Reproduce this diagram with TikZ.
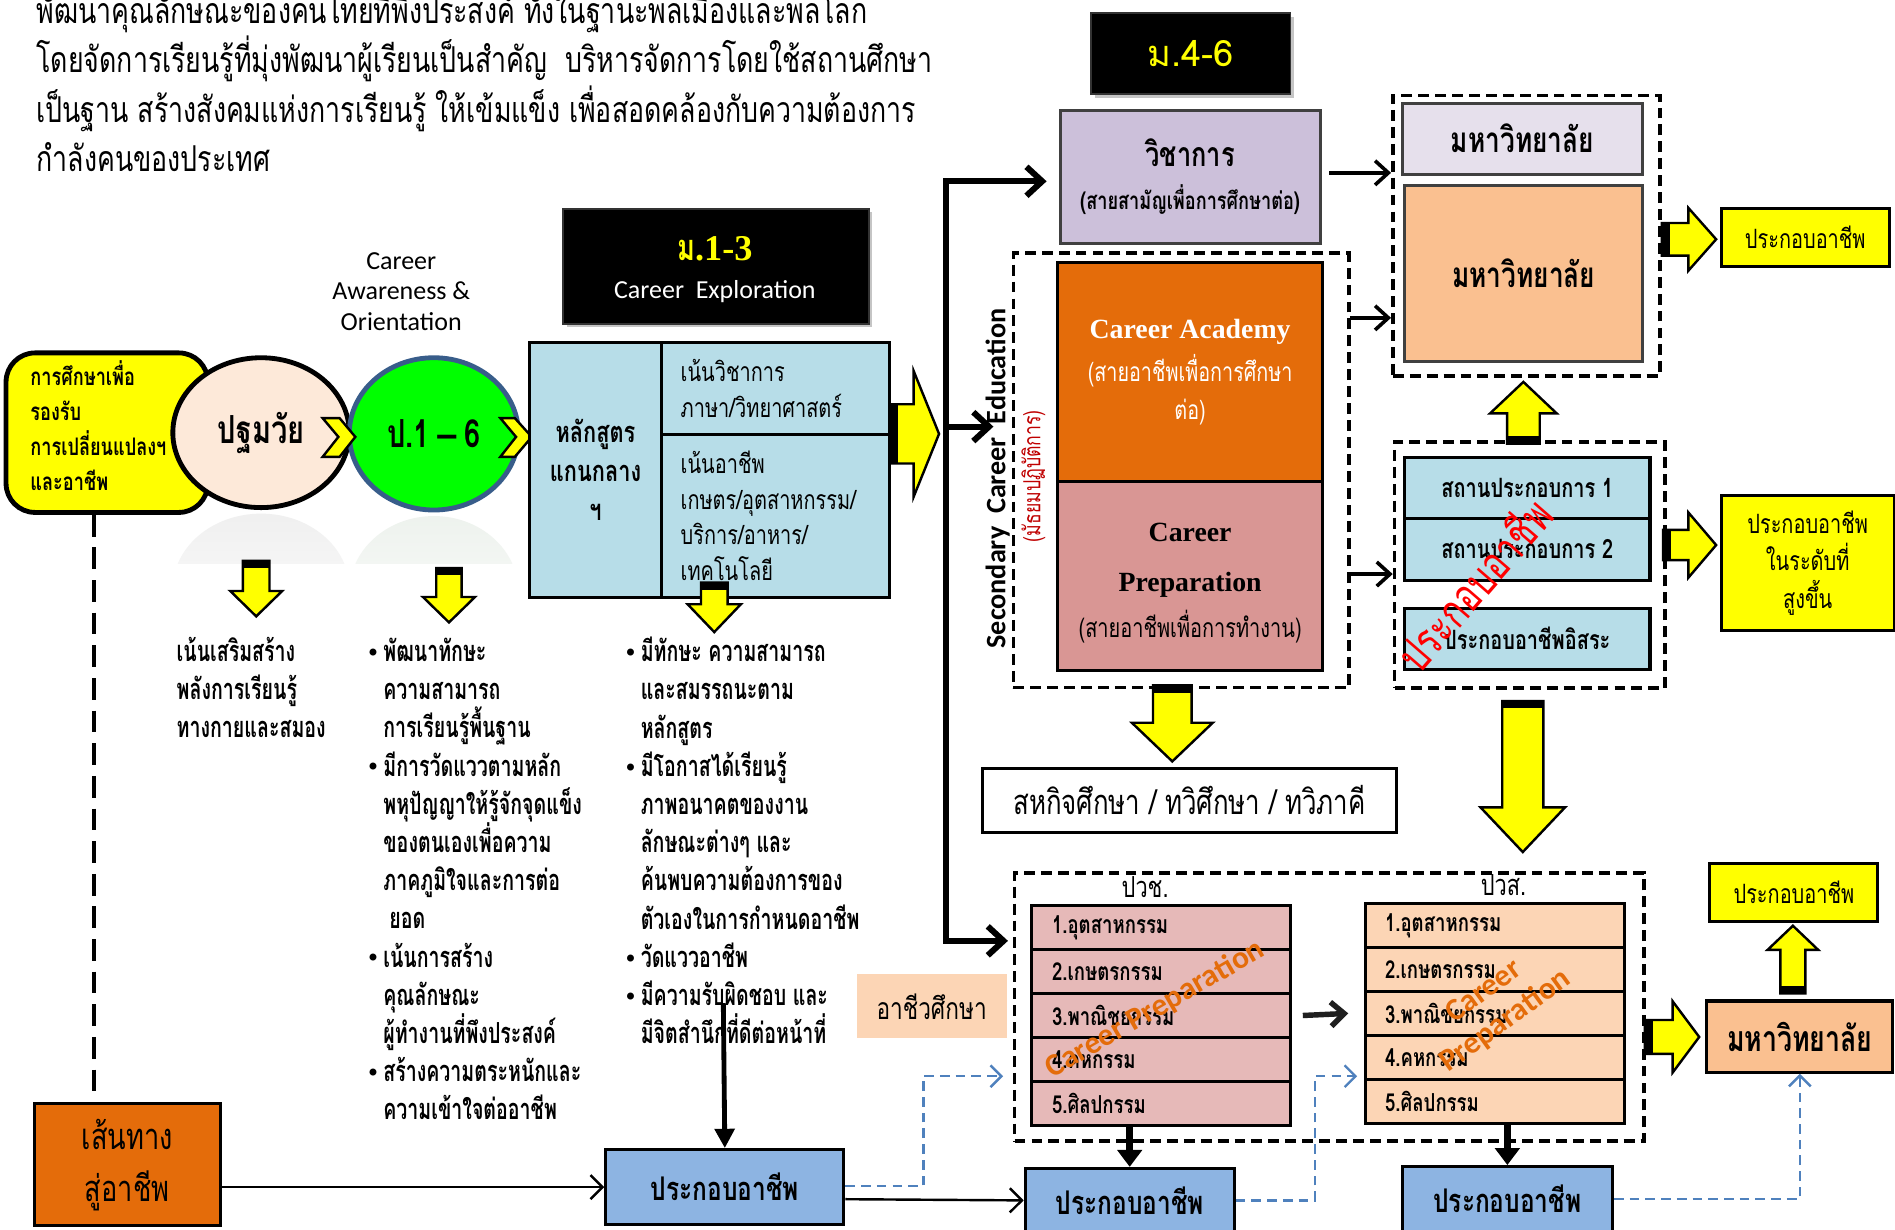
\documentclass[tikz,border=0pt]{standalone}
\usepackage{fontspec}
\setmainfont[Script=Thai]{Loma}
\newfontfamily\thn[Script=Thai,FakeStretch=0.75]{Loma}
\newfontfamily\thb[Script=Thai,FakeStretch=0.675]{Loma}
\newfontfamily\carl{Carlito}
\newfontfamily\tnr{Liberation Serif}
\newfontfamily\libs{Liberation Sans}
\usetikzlibrary{arrows.meta,shapes.geometric,shadows}
\definecolor{cyel}{HTML}{FFFF00}
\definecolor{cpeach}{HTML}{FDE9D9}
\definecolor{cgreen}{HTML}{00FF00}
\definecolor{cgbord}{HTML}{385D8A}
\definecolor{clblue}{HTML}{B7DDE8}
\definecolor{clav}{HTML}{CCC0DA}
\definecolor{clavl}{HTML}{E6E0EC}
\definecolor{corange}{HTML}{E46C0A}
\definecolor{cpink}{HTML}{D99694}
\definecolor{cpeachb}{HTML}{FAC090}
\definecolor{cpvc}{HTML}{E6B9B8}
\definecolor{cpvs}{HTML}{FCD5B5}
\definecolor{cblue}{HTML}{8DB4E2}
\definecolor{cbdash}{HTML}{4F81BD}
\definecolor{cdred}{HTML}{C00000}
\definecolor{cdgray}{HTML}{404040}
\definecolor{cdark}{HTML}{1F1F1F}
\newcommand\fs[2]{\fontsize{#1}{#2}\selectfont}
\newcommand\bul{\makebox[12pt][l]{\raisebox{1pt}{\libs\fs{20}{20}\textbullet}}}
\newcommand\nob{\hspace*{12pt}}
% yellow block arrows
\newcommand\yarR[6]{%
  \draw[yarrow] (#1,#4-#5) -- (#2,#4-#5) -- (#2,#4-#6) -- (#3,#4) -- (#2,#4+#6) -- (#2,#4+#5) -- (#1,#4+#5) -- cycle;
  \fill[black] (#1,#4-#5) rectangle (#1+7,#4+#5);}
\newcommand\yarD[6]{%
  \draw[yarrow] (#1-#5,#2) -- (#1+#5,#2) -- (#1+#5,#3) -- (#1+#6,#3) -- (#1,#4) -- (#1-#6,#3) -- (#1-#5,#3) -- cycle;
  \fill[black] (#1-#5,#2) rectangle (#1+#5,#2+6);}
\newcommand\yarU[6]{%
  \draw[yarrow] (#1-#5,#2) -- (#1+#5,#2) -- (#1+#5,#3) -- (#1+#6,#3) -- (#1,#4) -- (#1-#6,#3) -- (#1-#5,#3) -- cycle;
  \fill[black] (#1-#5,#2) rectangle (#1+#5,#2-6);}
\begin{document}
\begin{tikzpicture}[x=1pt,y=-1pt,
  box/.style={draw=black,line width=2.5pt,inner sep=0pt,anchor=north west},
  dbox/.style={draw=black,line width=3pt,dash pattern=on 9pt off 5pt},
  yarrow/.style={fill=cyel,draw=black,line width=2pt,line join=miter},
  trunk/.style={line width=5pt,line join=miter,{Straight Barb[length=13pt,width=24pt]}-{Straight Barb[length=13pt,width=24pt]}},
  trunkone/.style={line width=5pt,-{Straight Barb[length=13pt,width=24pt]}},
  marr/.style={line width=3pt,-{Straight Barb[length=11pt,width=20pt]}},
  thinarr/.style={line width=2pt,-{Straight Barb[length=10pt,width=20pt]}},
  vdown/.style={line width=4pt,-{Triangle[length=16pt,width=16pt]}},
  tdown/.style={line width=5.5pt,-{Triangle[length=14pt,width=20pt]}},
  bdash/.style={draw=cbdash,line width=2pt,dash pattern=on 8pt off 5pt,-{Straight Barb[length=9pt,width=18pt]}},
  vdash/.style={line width=3.5pt,dash pattern=on 18pt off 9pt},
  hdr/.style={box,fill=black,draw=gray!40!black,line width=1.5pt,drop shadow={shadow xshift=3pt,shadow yshift=-3pt,fill=black!45}},
  lbl/.style={anchor=mid,inner sep=0pt}]
\path[use as bounding box,fill=white] (0,0) rectangle (1568,1017.7);

% intro paragraph (anchored at its last line)
\node[anchor=mid west,align=left,inner sep=0pt,font={\thn\fs{29.5}{41}}] (intro) at (30,139.5)
 {พัฒนาคุณลักษณะของคนไทยที่พึงประสงค์ ทั้งในฐานะพลเมืองและพลโลก\\
  โดยจัดการเรียนรู้ที่มุ่งพัฒนาผู้เรียนเป็นสำคัญ \ บริหารจัดการโดยใช้สถานศึกษา\\
  เป็นฐาน สร้างสังคมแห่งการเรียนรู้ ให้เข้มแข็ง เพื่อสอดคล้องกับความต้องการ\\
  กำลังคนของประเทศ};

% left column
\node[box,line width=4pt,fill=cyel,rounded corners=24pt,minimum width=167pt,minimum height=132pt] (edu) at (3,290) {};
\node[anchor=mid west,align=left,inner sep=0pt,font={\thn\bfseries\fs{20}{29}}] (edut) at (25,403)
 {การศึกษาเพื่อ\\รองรับ\\การเปลี่ยนแปลงฯ\\และอาชีพ};

% faint reflections
\begin{scope}
 \clip (130,425) rectangle (440,466);
 \shade[top color=gray!12,bottom color=white] (216,487) ellipse [x radius=73pt,y radius=62pt];
 \shade[top color=green!15!gray!12,bottom color=white] (359,490) ellipse [x radius=70pt,y radius=63pt];
\end{scope}

\node[ellipse,draw=black,line width=4pt,fill=cpeach,minimum width=146pt,minimum height=124pt,
      font={\thn\bfseries\fs{32}{32}}] (kg) at (216,358) {ปฐมวัย};
\node[ellipse,draw=cgbord,line width=4pt,fill=cgreen,minimum width=140pt,minimum height=126pt,
      font={\thn\bfseries\fs{32}{32}}] (p16) at (359,359) {ป.1{\libs\bfseries\,–\,}6};

\draw[yarrow] (267,346) -- (281,346) -- (294,361.5) -- (281,378) -- (267,378) -- (280,361.5) -- cycle;
\draw[yarrow] (414,346) -- (426,346) -- (440,361.5) -- (426,378) -- (414,378) -- (427,361.5) -- cycle;

\node[anchor=mid,align=center,inner sep=0pt,font={\carl\fs{21.5}{25.5}}] (cao) at (332,271)
 {Career\\Awareness \&\\Orientation};

% M1-3 header
\node[hdr,minimum width=253pt,minimum height=95pt] (m13) at (465,172) {};
\node[lbl,text=cyel,font={\thn\bfseries\fs{30}{30}}] (m13a) at (591.5,213) {ม{\tnr\bfseries.1-3}};
\node[lbl,text=white,font={\carl\fs{21.5}{22}}] (m13b) at (591.5,244) {Career\ \ Exploration};

% core curriculum table
\node[box,fill=clblue,minimum width=109pt,minimum height=211pt,align=center,
      font={\thn\bfseries\fs{24}{32.5}}] (coreL) at (437,282) {หลักสูตร\\แกนกลาง\\ฯ};
\node[box,fill=clblue,minimum width=189pt,minimum height=76pt,text width=157pt,align=left,
      font={\thn\fs{22}{30}}] (coreA) at (546,282) {เน้นวิชาการ\\ภาษา/วิทยาศาสตร์};
\node[box,fill=clblue,minimum width=189pt,minimum height=135pt,text width=157pt,align=left,
      font={\thn\fs{22}{29.3}}] (coreB) at (546,358) {เน้นอาชีพ\\เกษตร/อุตสาหกรรม/\\บริการ/อาหาร/\\เทคโนโลยี};

\yarR{736}{756}{777}{359}{24.5}{52}

% small down arrows
\yarD{212}{464}{489}{510}{11}{21.5}
\yarD{371.5}{470}{494}{515}{10.5}{21.5}
\yarD{591}{482}{500}{523}{11}{22}

% bullet text blocks (anchored at their last line)
\node[anchor=mid west,align=left,inner sep=0pt,font={\thb\bfseries\fs{24}{31.6}}] (lst1) at (146,608)
 {เน้นเสริมสร้าง\\พลังการเรียนรู้\\ทางกายและสมอง};
\node[anchor=mid west,align=left,inner sep=0pt,font={\thb\bfseries\fs{24}{31.6}}] (lst2) at (305,924)
 {\bul พัฒนาทักษะ\\\nob ความสามารถ\\\nob การเรียนรู้พื้นฐาน\\\bul มีการวัดแววตามหลัก\\\nob พหุปัญญาให้รู้จักจุดแข็ง\\\nob ของตนเองเพื่อความ\\\nob ภาคภูมิใจและการต่อ\\\nob\hspace*{5pt}ยอด\\\bul เน้นการสร้าง\\\nob คุณลักษณะ\\\nob ผู้ทำงานที่พึงประสงค์\\\bul สร้างความตระหนักและ\\\nob ความเข้าใจต่ออาชีพ};
\node[anchor=mid west,align=left,inner sep=0pt,font={\thb\bfseries\fs{24}{31.6}}] (lst3) at (518,861)
 {\bul มีทักษะ ความสามารถ\\\nob และสมรรถนะตาม\\\nob หลักสูตร\\\bul มีโอกาสได้เรียนรู้\\\nob ภาพอนาคตของงาน\\\nob ลักษณะต่างๆ และ\\\nob ค้นพบความต้องการของ\\\nob ตัวเองในการกำหนดอาชีพ\\\bul วัดแววอาชีพ\\\bul มีความรับผิดชอบ และ\\\nob มีจิตสำนึกที่ดีต่อหน้าที่};

% M4-6 header and academic stream
\node[hdr,minimum width=165pt,minimum height=67pt,text=cyel,font={\fs{30}{30}}] (m46) at (902,10) {ม.4-6};
\node[box,fill=clav,draw=cdgray,minimum width=215pt,minimum height=110pt,align=center,
      font={\thn\bfseries\fs{20}{36}}] (vich) at (876,90)
 {{\fs{28}{36}วิชาการ}\\(สายสามัญเพื่อการศึกษาต่อ)};

% secondary career education
\node[box,dbox,minimum width=277.5pt,minimum height=359.5pt] (sce) at (837,208) {};
\node[box,fill=corange,minimum width=219pt,minimum height=181.3pt,align=center,text=white,
      font={\thn\fs{21.8}{31}}] (cacad) at (874,215.7)
 {{\tnr\bfseries\fs{23}{31}Career Academy}\\[5pt](สายอาชีพเพื่อการศึกษา\\ต่อ)};
\node[box,fill=cpink,minimum width=219pt,minimum height=156.7pt] (cprep) at (874,397) {};
\node[align=center,inner sep=0pt,font={\thn\fs{22}{38}}] (cprept) at ([yshift=-6pt]cprep.center)
 {{\tnr\bfseries\fs{23}{38}Career}\\[3pt]{\tnr\bfseries\fs{23}{38}Preparation}\\(สายอาชีพเพื่อการทำงาน)};
\node[rotate=90,inner sep=0pt,font={\carl\bfseries\fs{23.3}{23}}] (scelbl) at (825.5,396) {Secondary\ \ Career\ \ Education};
\node[rotate=90,inner sep=0pt,text=cdred,font={\thn\fs{19.5}{19}}] (scesub) at (855,394) {(มัธยมปฏิบัติการ)};

% trunk
\coordinate (tT) at (783,150);
\coordinate (tTe) at (866,150);
\coordinate (tM) at (783,353);
\coordinate (tMe) at (822,353);
\coordinate (tB) at (783,778.5);
\coordinate (tBe) at (834,778.5);
\draw[trunk] (tBe) -- (tB) -- (tT) -- (tTe);
\draw[trunkone] (tM) -- (tMe);

% university block
\node[box,dbox,minimum width=221pt,minimum height=232pt] (uni) at (1151,77.5) {};
\node[box,fill=clavl,draw=cdgray,minimum width=199pt,minimum height=59pt,font={\thn\bfseries\fs{29}{29}}] (uniA) at (1159,84) {มหาวิทยาลัย};
\node[box,fill=cpeachb,draw=cdgray,minimum width=197pt,minimum height=146pt,font={\thn\bfseries\fs{29}{29}}] (uniB) at (1161,152) {มหาวิทยาลัย};
\coordinate (a1) at (1100,143);
\coordinate (a2) at (1117,263);
\coordinate (a3) at (1117,475);
\draw[marr] (a1) -- (a1 -| uni.west);
\draw[marr] (a2) -- (a2 -| uni.west);

\yarR{1375}{1397}{1420}{198}{13.5}{26}
\node[box,fill=cyel,minimum width=139pt,minimum height=48pt,font={\thn\fs{22}{22}}] (job1) at (1423,171) {ประกอบอาชีพ};

\yarU{1260.5}{367}{342}{316}{13.5}{27.5}

% workplace block
\node[box,dbox,minimum width=223.6pt,minimum height=204pt] (wp) at (1152.4,364) {};
\draw[marr] (a3) -- (a3 -| wp.west);
\node[box,fill=clblue,minimum width=203pt,minimum height=50.5pt,font={\thn\bfseries\fs{22}{22}}] (wp1) at (1161,377) {สถานประกอบการ 1};
\node[box,fill=clblue,minimum width=203pt,minimum height=51.5pt,font={\thn\bfseries\fs{22}{22}}] (wp2) at (1161,427.5) {สถานประกอบการ 2};
\node[box,fill=clblue,minimum width=203pt,minimum height=50.5pt,font={\thn\bfseries\fs{22}{22}}] (wp3) at (1161,502) {ประกอบอาชีพอิสระ};
\node[rotate=49,inner sep=0pt,text=red,font={\thn\fs{38}{38}}] (redjob) at (1219,483) {ประกอบอาชีพ};

\yarR{1376}{1397}{1420}{451}{12.5}{27}
\node[box,fill=cyel,minimum width=143pt,minimum height=112pt,align=center,font={\thn\fs{22}{31}}] (job2) at (1423,408.5)
 {ประกอบอาชีพ\\ในระดับที่\\สูงขึ้น};

% cooperative education
\yarD{970}{567}{598}{630}{16}{33.5}
\node[box,minimum width=343pt,minimum height=53pt,font={\thn\fs{28.5}{28}}] (coop) at (811.5,634.5) {สหกิจศึกษา / ทวิศึกษา / ทวิภาคี};
\yarD{1260}{580}{668}{705}{17}{35}

% vocational block
\node[box,dbox,minimum width=520.6pt,minimum height=221.6pt] (pv) at (838,721) {};
\node[lbl,font={\thn\fs{24}{24}}] (pvcL) at (947.5,740) {ปวช.};
\node[lbl,font={\thn\fs{24}{24}}] (pvsL) at (1244,738.5) {ปวส.};
\foreach \t [count=\i from 0] in {1.อุตสาหกรรม,2.เกษตรกรรม,3.พาณิชยกรรม,4.คหกรรม,5.ศิลปกรรม}{
  \node[box,fill=cpvc,minimum width=214.5pt,minimum height=36.4pt,text width=180pt,align=left,
        font={\thn\bfseries\fs{20.5}{20}},name=pvc\i] at (852,748+36.4*\i) {\t};
  \node[box,fill=cpvs,minimum width=214.4pt,minimum height=36.3pt,text width=182pt,align=left,
        font={\thn\bfseries\fs{20.5}{20}},name=pvs\i] at (1128.6,746.5+36.3*\i) {\t};
}
\node[rotate=30,inner sep=0pt,text=corange,font={\carl\bfseries\fs{26}{26}}] (cpr1) at (956,835) {Career Preparation};
\node[rotate=36,inner sep=0pt,align=center,text=corange,font={\carl\bfseries\fs{26}{30}}] (cpr2) at (1237,833) {Career\\Preparation};
\draw[marr,line width=4.5pt,draw=cdark] ([xshift=9pt]pvc2.east) -- ([xshift=-13pt]pvs2.west);
\node[box,draw=none,fill=cpvs,minimum width=124pt,minimum height=53pt,font={\thn\fs{25}{25}}] (voc) at (707.6,805) {อาชีวศึกษา};

\yarR{1361}{1384}{1406}{858}{14}{29.5}
\node[box,fill=cpeachb,minimum width=154pt,minimum height=59pt,font={\thn\bfseries\fs{29.5}{29}}] (uni2) at (1411,827) {มหาวิทยาลัย};
\yarU{1483.5}{822}{786}{766}{10.3}{21}
\node[box,fill=cyel,minimum width=139pt,minimum height=48pt,font={\thn\fs{22}{22}}] (job3) at (1413.6,713) {ประกอบอาชีพ};

% bottom row
\node[box,fill=corange,minimum width=154pt,minimum height=101pt,align=center,font={\thn\fs{30}{43}}] (path) at (27,912) {เส้นทาง\\สู่อาชีพ};
\node[box,fill=cblue,minimum width=197pt,minimum height=62pt,font={\thn\bfseries\fs{27}{27}}] (jobA) at (500,950) {ประกอบอาชีพ};
\node[box,fill=cblue,minimum width=173pt,minimum height=53pt,font={\thn\bfseries\fs{27}{27}}] (jobB) at (847,965.5) {ประกอบอาชีพ};
\node[box,fill=cblue,minimum width=174pt,minimum height=54pt,font={\thn\bfseries\fs{27}{27}}] (jobC) at (1159,964) {ประกอบอาชีพ};

\path ([xshift=-10.5pt]edu.south) coordinate (eduB);
\draw[vdash] (eduB) -- (eduB |- path.north);
\draw[thinarr] (path.east |- jobA.west) -- (jobA.west);
\draw[thinarr] ([yshift=-10pt]jobA.east) -- (jobB.west);
\coordinate (vd) at (598.5,830);
\draw[vdown] (vd) -- (jobA.north);
\draw[tdown] (jobB.north |- pvc4.south) -- (jobB.north);
\draw[tdown] (jobC.north |- pvs4.south) -- (jobC.north);
\coordinate (bd1) at (764,890.5);
\coordinate (bd1e) at (830,890.5);
\coordinate (bd2) at (1088,890.5);
\coordinate (bd2e) at (1123,890.5);
\draw[bdash] ([yshift=1pt]jobA.east) -| (bd1) -- (bd1e);
\draw[bdash] (jobB.east) -| (bd2) -- (bd2e);
\draw[bdash] (jobC.east) -| (uni2.south);
\end{tikzpicture}
\end{document}
